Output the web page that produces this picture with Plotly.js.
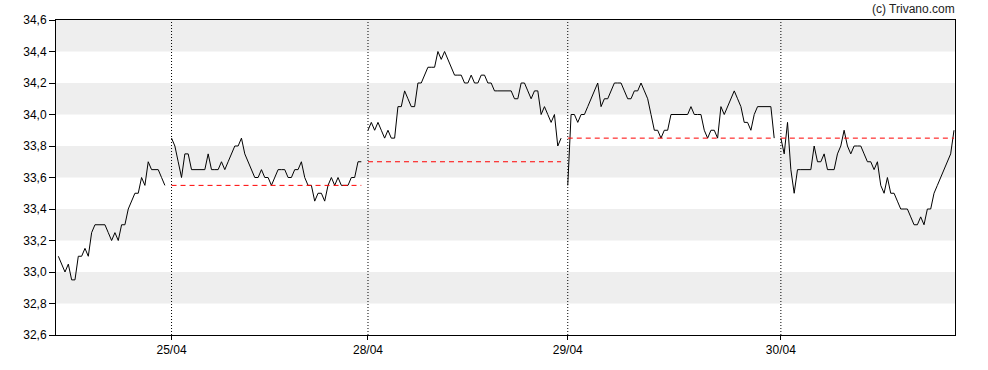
<!DOCTYPE html>
<html><head><meta charset="utf-8">
<script src="https://cdn.plot.ly/plotly-3.0.1.min.js"></script>
<style>html,body{margin:0;padding:0;background:#fff}#chart{width:988px;height:370px}</style>
</head><body><div id="chart"></div>
<script>
// Trading days (intraday index axis)
const dayLabels = ['24/04', '25/04', '28/04', '29/04', '30/04'];
const dayStart = [0, 34, 93, 153, 217];

const day1 = [33.10, 33.05, 33.00, 33.05, 32.95, 32.95, 33.10, 33.10, 33.15, 33.10,
  33.25, 33.30, 33.30, 33.30, 33.30, 33.25, 33.20, 33.25, 33.20, 33.30,
  33.30, 33.40, 33.45, 33.50, 33.50, 33.60, 33.55, 33.70, 33.65, 33.65,
  33.65, 33.60, 33.55];
const day2 = [33.85, 33.80, 33.70, 33.60, 33.75, 33.75, 33.65, 33.65, 33.65, 33.65,
  33.65, 33.75, 33.65, 33.65, 33.65, 33.70, 33.65, 33.70, 33.75, 33.80,
  33.80, 33.85, 33.75, 33.70, 33.65, 33.60, 33.60, 33.65, 33.60, 33.60,
  33.55, 33.60, 33.65, 33.65, 33.65, 33.60, 33.60, 33.65, 33.65, 33.70,
  33.60, 33.55, 33.55, 33.45, 33.50, 33.50, 33.45, 33.55, 33.60, 33.55,
  33.60, 33.55, 33.55, 33.55, 33.60, 33.60, 33.70, 33.70];
const day3 = [33.90, 33.95, 33.90, 33.95, 33.90, 33.85, 33.90, 33.85, 33.85, 34.05,
  34.05, 34.15, 34.10, 34.05, 34.05, 34.20, 34.20, 34.25, 34.30, 34.30,
  34.30, 34.40, 34.35, 34.40, 34.35, 34.30, 34.25, 34.25, 34.25, 34.20,
  34.20, 34.25, 34.20, 34.20, 34.25, 34.25, 34.20, 34.20, 34.15, 34.15,
  34.15, 34.15, 34.15, 34.15, 34.10, 34.10, 34.20, 34.20, 34.15, 34.10,
  34.15, 34.15, 34.00, 34.05, 34.00, 33.95, 34.00, 33.80, 33.85];
const day4 = [33.55, 34.00, 34.00, 33.95, 34.00, 34.00, 34.05, 34.10, 34.15, 34.20,
  34.05, 34.10, 34.10, 34.15, 34.20, 34.20, 34.20, 34.15, 34.10, 34.10,
  34.15, 34.15, 34.20, 34.15, 34.10, 34.00, 33.90, 33.90, 33.85, 33.90,
  33.90, 34.00, 34.00, 34.00, 34.00, 34.00, 34.00, 34.05, 34.00, 34.00,
  34.00, 33.90, 33.85, 33.90, 33.90, 33.85, 34.05, 34.00, 34.05, 34.10,
  34.15, 34.10, 34.05, 33.95, 33.95, 33.90, 34.00, 34.05, 34.05, 34.05,
  34.05, 34.05, 33.85];
const day5 = [33.85, 33.75, 33.95, 33.65, 33.50, 33.65, 33.65, 33.65, 33.65, 33.65,
  33.80, 33.70, 33.70, 33.75, 33.65, 33.65, 33.65, 33.75, 33.80, 33.90,
  33.80, 33.75, 33.80, 33.80, 33.80, 33.75, 33.70, 33.70, 33.65, 33.70,
  33.55, 33.50, 33.60, 33.50, 33.50, 33.45, 33.40, 33.40, 33.40, 33.35,
  33.30, 33.30, 33.35, 33.30, 33.40, 33.40, 33.50, 33.55, 33.60, 33.65,
  33.70, 33.75, 33.90];

const yTicks = [32.6, 32.8, 33.0, 33.2, 33.4, 33.6, 33.8, 34.0, 34.2, 34.4, 34.6];
const copyright = '(c) Trivano.com';

const days = [day1, day2, day3, day4, day5];

const traces = days.map((vals, d) => ({
  type: 'scatter', mode: 'lines',
  x: vals.map((v, k) => dayStart[d] + k),
  y: vals,
  line: {color: '#000000', width: 1},
  hoverinfo: 'skip', showlegend: false
}));

const shapes = [];
// alternating grey bands
for (let i = 1; i < yTicks.length - 1; i += 2) {
  shapes.push({type: 'rect', xref: 'paper', yref: 'y', x0: 0, x1: 1,
    y0: yTicks[i], y1: yTicks[i + 1], fillcolor: '#eeeeee', line: {width: 0}, layer: 'below'});
}
// day separators and previous close lines
for (let d = 1; d < days.length; d++) {
  shapes.push({type: 'line', xref: 'x', yref: 'paper', x0: dayStart[d], x1: dayStart[d], y0: 0, y1: 1,
    line: {color: '#000000', width: 1, dash: '1px,2px'}, layer: 'above'});
  const prev = days[d - 1];
  const close = prev[prev.length - 1];
  shapes.push({type: 'line', xref: 'x', yref: 'y', x0: dayStart[d], x1: dayStart[d] + days[d].length - 1,
    y0: close, y1: close, line: {color: '#ff0000', width: 1, dash: '5px,4px'}, layer: 'above'});
}

const layout = {
  width: 988, height: 370,
  margin: {l: 56, r: 33, t: 20, b: 35, pad: 0},
  paper_bgcolor: '#ffffff', plot_bgcolor: '#ffffff',
  separators: ', ',
  font: {family: 'Liberation Sans, Arial, sans-serif', size: 12, color: '#000000'},
  showlegend: false,
  xaxis: {
    range: [-0.7, 269.3], showgrid: false, zeroline: false,
    showline: true, linecolor: '#000000', linewidth: 1, mirror: true,
    ticks: 'outside', ticklen: 4, tickcolor: '#000000',
    tickvals: dayStart.slice(1), ticktext: dayLabels.slice(1),
    tickfont: {size: 12, color: '#000000'}
  },
  yaxis: {
    range: [32.6, 34.6], showgrid: false, zeroline: false,
    showline: true, linecolor: '#000000', linewidth: 1, mirror: true,
    ticks: 'outside', ticklen: 6, tickcolor: '#000000',
    tickvals: yTicks, tickformat: '.1f',
    tickfont: {size: 12, color: '#000000'}
  },
  shapes: shapes,
  annotations: [{
    text: copyright, xref: 'paper', yref: 'paper', x: 1.002, y: 1.035,
    xanchor: 'right', yanchor: 'middle', showarrow: false,
    font: {size: 12, color: '#222222'}
  }]
};

Plotly.newPlot('chart', traces, layout, {staticPlot: true, displayModeBar: false});
</script>
</body></html>
